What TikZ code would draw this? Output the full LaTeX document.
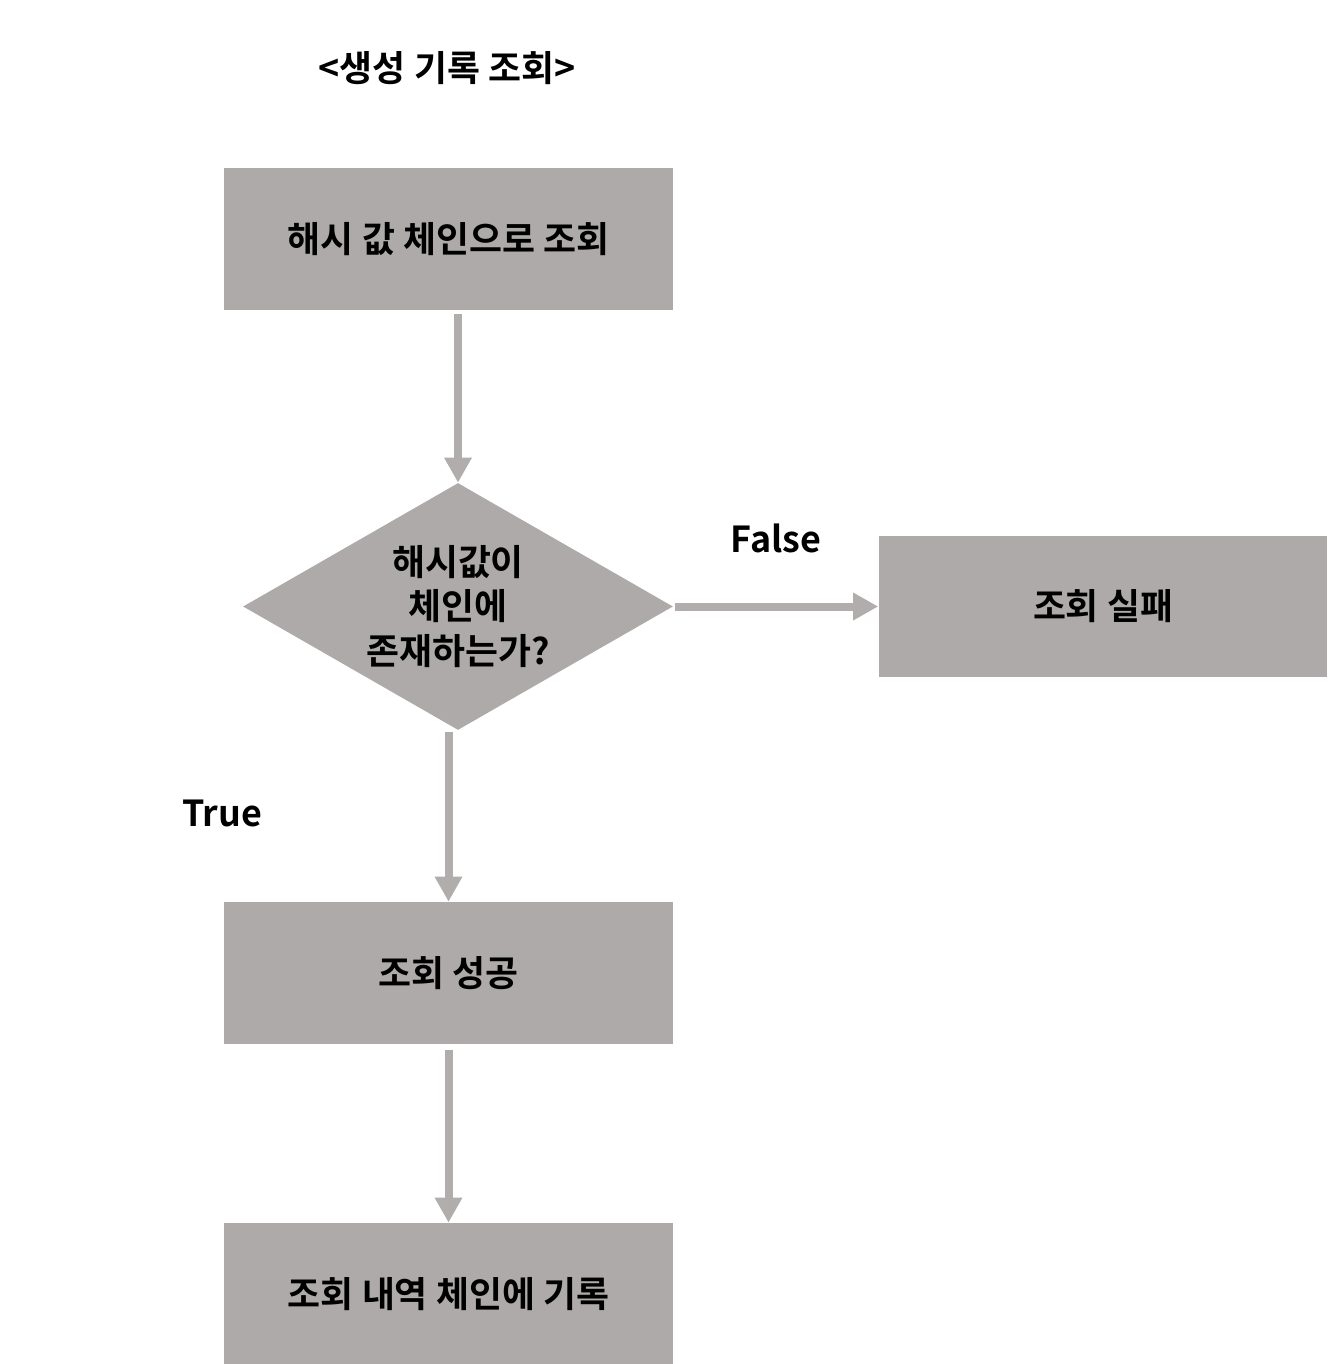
\documentclass[tikz,border=0pt]{standalone}
\usepackage{fontspec}
\setmainfont{Noto Sans CJK KR}[BoldFont={Noto Sans CJK KR Bold}]
\usetikzlibrary{shapes.geometric,arrows.meta}
\definecolor{boxgray}{HTML}{ADAAA9}
\definecolor{arrowgray}{HTML}{B0ADAC}
\tikzset{
  stepbox/.style={rectangle, fill=boxgray, minimum width=8.98cm, minimum height=2.84cm,
    inner sep=0pt, font=\fontsize{20.4}{24}\selectfont\bfseries},
  decision/.style={diamond, fill=boxgray, minimum width=8.6cm, minimum height=4.94cm,
    aspect=1.74, inner sep=0pt, align=center, font=\fontsize{20.4}{25.5}\selectfont\bfseries},
  label/.style={font=\fontsize{20.4}{24}\selectfont\bfseries},
  flow/.style={draw=arrowgray, line width=0.16cm, -{Triangle[width=0.52cm,length=0.5cm]}}
}
\begin{document}
\begin{tikzpicture}[x=0.02cm, y=-0.02cm]
      \useasboundingbox (0,0) rectangle (1327,1364);
      \draw
        (447,68) node[label] (title){<생성 기록 조회>}
        (448.5,239) node[stepbox] (query){해시 값 체인으로 조회}
        (458,606.5) node[decision] (check){해시값이\\체인에\\존재하는가?}
        (1103,606.5) node[stepbox] (fail){조회 실패}
        (448.5,973) node[stepbox] (ok){조회 성공}
        (448.5,1294) node[stepbox] (record){조회 내역 체인에 기록}
        (776,538) node[label] (false){False}
        (222,813) node[label] (true){True};
      \begin{scope}[flow]
        \draw ([yshift=-2pt]query.south -| check.north) to (check.north);
        \draw ([xshift=1pt]check.east) to (fail.west);
        \draw ([yshift=-1pt]check.south -| ok.north) to (ok.north);
        \draw ([yshift=-3pt]ok.south) to (record.north);
      \end{scope}
    \end{tikzpicture}
\end{document}
